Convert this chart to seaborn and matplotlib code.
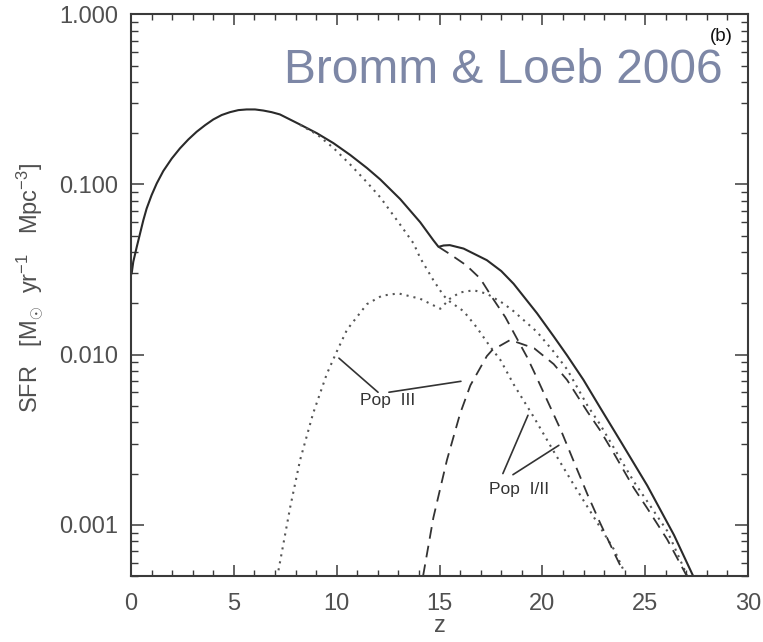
import numpy as np
import pandas as pd
import matplotlib
matplotlib.use("Agg")
import matplotlib.pyplot as plt
from matplotlib.ticker import LogLocator, FixedLocator, MultipleLocator, FuncFormatter, NullFormatter
import seaborn as sns

# Comoving star formation rate density vs redshift
z_total = [0.03, 0.11, 0.28, 0.44, 0.60, 0.76, 1.0, 1.25, 1.57, 1.98, 2.38, 2.79, 3.19, 3.6,
           4.0, 4.41, 4.81, 5.22, 5.62, 6.03, 6.43, 6.84, 7.24, 8.22, 9.04, 9.84, 10.66,
           11.47, 12.12, 13.09, 14.06, 14.7, 14.95, 15.2, 15.5, 16.17, 17.3, 18.0, 18.6,
           19.74, 20.55, 21.2, 22.0, 22.8, 23.8, 25.1, 26.4, 27.4]
sfr_total = [0.0299, 0.0351, 0.0430, 0.0515, 0.0617, 0.0722, 0.0865, 0.1014, 0.120, 0.142,
             0.163, 0.184, 0.204, 0.223, 0.241, 0.256, 0.266, 0.2735, 0.276, 0.276, 0.272,
             0.266, 0.258, 0.225, 0.200, 0.175, 0.149, 0.125, 0.107, 0.082, 0.060, 0.047,
             0.043, 0.0438, 0.044, 0.042, 0.0359, 0.031, 0.0261, 0.0175, 0.0128, 0.0099,
             0.0071, 0.0049, 0.0031, 0.00170, 0.00087, 0.00048]

# Case 1 (dotted): Pop I/II and Pop III
z_pop12_dot = [8.22, 9.04, 9.84, 10.66, 11.47, 12.12, 13.09, 13.74, 14.06, 14.7, 15.2, 15.5,
               16.17, 16.8, 17.47, 17.96, 18.6, 19.58, 20.55, 21.5, 22.5, 23.5, 23.95]
sfr_pop12_dot = [0.224, 0.197, 0.164, 0.131, 0.103, 0.084, 0.058, 0.045, 0.037, 0.0274, 0.0222,
                 0.0205, 0.0180, 0.0145, 0.0111, 0.0093, 0.0067, 0.0043, 0.0027, 0.00174,
                 0.00111, 0.00071, 0.00054]

z_pop3_dot = [7.17, 7.74, 8.22, 8.85, 9.52, 10.0, 10.5, 11.47, 12.2, 13.0, 14.06, 15.04, 15.5,
              16.0, 16.66, 17.3, 18.1, 18.6, 19.74, 20.55, 21.2, 22.2, 22.8, 23.5, 24.44,
              26.07, 27.05]
sfr_pop3_dot = [0.00054, 0.00127, 0.0024, 0.0045, 0.0077, 0.0104, 0.0140, 0.0198, 0.0222,
                0.0229, 0.0213, 0.0186, 0.0213, 0.0232, 0.0239, 0.0228, 0.0200, 0.0180,
                0.0136, 0.0104, 0.0082, 0.0050, 0.0039, 0.0028, 0.0018, 0.00092, 0.00050]

# Case 2 (dashed): Pop I/II and Pop III
z_pop12_dash = [14.95, 15.5, 16.3, 16.98, 17.6, 18.2, 18.8, 19.25, 19.58, 20.2, 20.9, 21.5,
                22.2, 22.8, 23.5, 23.9]
sfr_pop12_dash = [0.043, 0.039, 0.0335, 0.028, 0.0213, 0.0166, 0.0122, 0.0097, 0.0080,
                  0.0055, 0.0036, 0.0024, 0.0015, 0.00103, 0.00068, 0.00054]

z_pop3_dash = [14.2, 14.7, 15.36, 16.0, 16.5, 17.3, 17.55, 18.44, 19.6, 20.55, 21.2, 22.2,
               22.8, 23.5, 24.44, 25.1, 26.07, 27.1]
sfr_pop3_dash = [0.0005, 0.0011, 0.0024, 0.0045, 0.0066, 0.0098, 0.0106, 0.0122, 0.0109,
                 0.0088, 0.0071, 0.0046, 0.0036, 0.0026, 0.00165, 0.00125, 0.00082, 0.00048]

y_ticks = [0.001, 0.01, 0.1, 1.0]
x_ticks = [0, 5, 10, 15, 20, 25, 30]

sns.set_theme(style="ticks")
plt.rcParams["font.family"] = ["Liberation Sans", "DejaVu Sans"]
plt.rcParams["mathtext.fontset"] = "custom"
plt.rcParams["mathtext.rm"] = "Liberation Sans"
plt.rcParams["mathtext.it"] = "Liberation Sans:italic"

fig = plt.figure(figsize=(7.63, 6.42), dpi=100)
ax = fig.add_axes([0.1717, 0.1028, 0.8087, 0.8749])

ink = "#2a2a2a"
dot_style = (0, (1, 2.4))
dash_style = (0, (6.5, 4))

series = [
    (z_total, sfr_total, "-", 1.5, ink),
    (z_pop12_dot, sfr_pop12_dot, dot_style, 1.5, "#555555"),
    (z_pop3_dot, sfr_pop3_dot, dot_style, 1.5, "#555555"),
    (z_pop12_dash, sfr_pop12_dash, dash_style, 1.3, "#333333"),
    (z_pop3_dash, sfr_pop3_dash, dash_style, 1.3, "#333333"),
]
for zz, ss, ls, lw, col in series:
    df = pd.DataFrame({"z": zz, "sfr": ss})
    sns.lineplot(data=df, x="z", y="sfr", ax=ax, color=col, linestyle=ls,
                 linewidth=lw, sort=False, estimator=None)

ax.set_yscale("log")
ax.set_xlim(0, 30)
ax.set_ylim(5e-4, 1.0)

ax.yaxis.set_major_locator(FixedLocator(y_ticks))
ax.yaxis.set_minor_locator(LogLocator(base=10, subs=np.arange(2, 10)))
ax.yaxis.set_major_formatter(FuncFormatter(lambda v, p: f"{v:.3f}"))
ax.yaxis.set_minor_formatter(NullFormatter())
ax.xaxis.set_major_locator(FixedLocator(x_ticks))
ax.xaxis.set_minor_locator(MultipleLocator(1))

axis_col = "#3a3a3a"
for sp in ax.spines.values():
    sp.set_visible(True)
    sp.set_color(axis_col)
    sp.set_linewidth(1.5)

ax.tick_params(which="both", direction="in", top=True, right=True, color=axis_col,
               labelcolor="#505050", labelsize=17)
ax.tick_params(axis="y", which="major", length=9.5, width=1.1, pad=9.5)
ax.tick_params(axis="y", which="minor", length=5, width=1.0)
ax.tick_params(axis="x", which="major", length=8, width=1.1, pad=12)
ax.tick_params(axis="x", which="minor", length=4.5, width=1.0)

ax.set_xlabel("z", fontsize=17, color="#505050")
ax.xaxis.set_label_coords(0.5, -0.0694)
ax.set_ylabel(r"SFR   [M$_{\odot}$  yr$^{-1}$   Mpc$^{-3}$]", fontsize=17, color="#505050")
ax.yaxis.set_label_coords(-0.137, 0.513)

# Population labels with leader lines
ax.text(12.49, 0.0054, "Pop  III", ha="center", va="center", fontsize=12.5, color="#333333")
ax.plot([10.11, 12.01], [0.00953, 0.00601], color="#333333", lw=1.2)
ax.plot([12.54, 16.04], [0.00601, 0.00697], color="#333333", lw=1.2)

ax.text(18.86, 0.00161, "Pop  I/II", ha="center", va="center", fontsize=12.5, color="#333333")
ax.plot([18.08, 19.3], [0.0020, 0.0044], color="#333333", lw=1.2)
ax.plot([18.57, 20.8], [0.00197, 0.00293], color="#333333", lw=1.2)

ax.text(0.956, 0.961, "(b)", transform=ax.transAxes, ha="center", va="center",
        fontsize=13.5, color="#111111")
ax.text(0.958, 0.878, "Bromm & Loeb 2006", transform=ax.transAxes, ha="right",
        va="baseline", fontsize=34.5, color="#7d87a6")

ax.set_facecolor("white")
fig.patch.set_facecolor("white")
fig.savefig("out.png", dpi=100)
